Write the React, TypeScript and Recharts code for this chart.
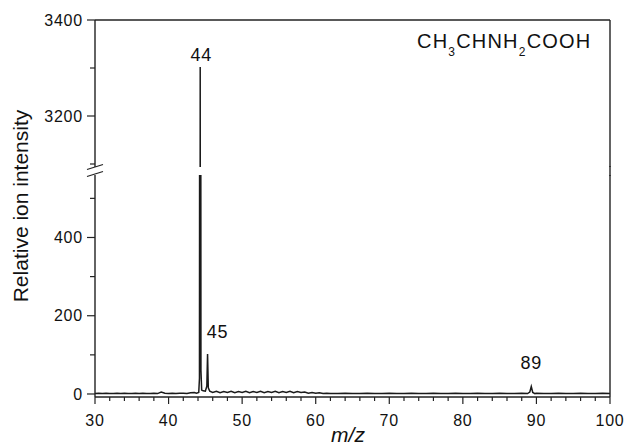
import React from 'react';
import { LineChart, Line, XAxis, YAxis, ReferenceDot } from 'recharts';

// m/z positions and relative ion intensities
const mzValues = [
  30, 30.5, 31, 31.5, 32, 32.5, 33, 33.5, 34, 34.5, 35, 35.5, 36, 36.5, 37, 37.5, 38, 38.5, 39, 39.5,
  40, 40.5, 41, 41.5, 42, 42.5, 43, 43.5, 43.8,
  44.1, 44.2, 44.3, 44.4, 44.5, 44.7,
  45.0, 45.2, 45.3, 45.4, 45.6,
  46, 46.5, 47, 47.5, 48, 48.5, 49, 49.5, 50, 50.5, 51, 51.5, 52, 52.5, 53, 53.5, 54, 54.5, 55, 55.5,
  56, 56.5, 57, 57.5, 58, 58.5, 59, 59.5, 60, 60.5, 61, 61.5, 62,
  63, 64, 65, 66, 67, 68, 69, 70, 71, 72, 73, 74, 75, 76, 77, 78, 79, 80, 81, 82, 83, 84, 85, 86, 87, 88,
  88.8, 89.1, 89.3, 89.5, 89.8,
  90, 91, 92, 93, 94, 95, 96, 97, 98, 99, 100,
];
const intensityValues = [
  1, 2, 1, 2, 1, 1, 2, 1, 2, 1, 1, 2, 1, 2, 1, 1, 2, 1, 5, 2,
  1, 2, 1, 2, 2, 1, 3, 4, 2,
  4, 40, 3302, 60, 10, 8,
  7, 20, 102, 16, 7,
  4, 7, 3, 6, 4, 7, 3, 6, 4, 7, 3, 6, 4, 7, 3, 6, 4, 7, 3, 6,
  4, 7, 3, 6, 4, 5, 2, 4, 2, 3, 1, 2, 1,
  1, 2, 1, 1, 2, 1, 1, 2, 1, 1, 2, 1, 1, 2, 1, 1, 2, 1, 1, 2, 1, 1, 2, 1, 1, 2,
  1, 5, 19, 4, 1,
  2, 1, 1, 2, 1, 1, 2, 1, 1, 2, 1,
];

const xTicks = [30, 32, 34, 36, 38, 40, 42, 44, 46, 48, 50, 52, 54, 56, 58, 60, 62, 64, 66, 68, 70, 72, 74, 76, 78, 80, 82, 84, 86, 88, 90, 92, 94, 96, 98, 100];
const xTickLabels = [30, 40, 50, 60, 70, 80, 90, 100];
const upperTicks = [3100, 3200, 3300, 3400];
const upperTickLabels = [3200, 3400];
const lowerTicks = [0, 100, 200, 300, 400, 500];
const lowerTickLabels = [0, 200, 400];

const spectrum = mzValues.map((mz, i) => ({ mz, intensity: intensityValues[i] }));

const FONT = '"Liberation Sans", Arial, Helvetica, sans-serif';
const INK = '#222';
const TEXT = '#111';

function makeYTick(labels: number[]) {
  return (props: any) => {
    const { x, y, payload } = props;
    const major = labels.includes(payload.value);
    const axisX = x + 12;
    return (
      <g>
        <line x1={axisX - (major ? 8 : 5)} x2={axisX} y1={y} y2={y} stroke={INK} strokeWidth={1.2} />
        {major && (
          <text x={x} y={y} dy="0.36em" textAnchor="end" fontFamily={FONT} fontSize={16} letterSpacing={0.8} fill={TEXT}>
            {payload.value}
          </text>
        )}
      </g>
    );
  };
}

const XTick = (props: any) => {
  const { x, y, payload } = props;
  const major = xTickLabels.includes(payload.value);
  const axisY = y - 9;
  return (
    <g>
      <line x1={x} x2={x} y1={axisY} y2={axisY + (major ? 7 : 4)} stroke={INK} strokeWidth={1.2} />
      {major && (
        <text x={x} y={axisY + 29} textAnchor="middle" fontFamily={FONT} fontSize={16} letterSpacing={0.8} fill={TEXT}>
          {payload.value}
        </text>
      )}
    </g>
  );
};

const PeakLabel = (props: any) => {
  const { viewBox, text, dx = 0, dy = 0 } = props;
  const cx = viewBox.x + (viewBox.width || 0) / 2;
  const cy = viewBox.y + (viewBox.height || 0) / 2;
  return (
    <text x={cx + dx} y={cy + dy} textAnchor="middle" fontFamily={FONT} fontSize={18} letterSpacing={0.8} fill={TEXT}>
      {text}
    </text>
  );
};

export default function App() {
  return (
    <div style={{ position: 'absolute', left: 0, top: 0, width: 625, height: 445, background: '#fff' }}>
      {/* lower panel: 0 .. ~560 */}
      <div style={{ position: 'absolute', left: 0, top: 0 }}>
        <LineChart width={625} height={445} data={spectrum} margin={{ top: 175, right: 0, bottom: 0, left: 0 }}>
          <XAxis
            dataKey="mz"
            type="number"
            domain={[30, 100]}
            ticks={xTicks}
            interval={0}
            height={48}
            tickSize={7}
            tickMargin={2}
            tickLine={false}
            tick={XTick}
            axisLine={{ stroke: INK, strokeWidth: 1.4 }}
            allowDataOverflow
          />
          <YAxis
            type="number"
            domain={[-7.7, 559.7]}
            ticks={lowerTicks}
            interval={0}
            width={95}
            tickSize={8}
            tickMargin={4}
            tickLine={false}
            tick={makeYTick(lowerTickLabels)}
            axisLine={{ stroke: INK, strokeWidth: 1.4 }}
            allowDataOverflow
          />
          <YAxis yAxisId="frame" orientation="right" width={15} domain={[0, 1]} tick={false} tickLine={false} axisLine={{ stroke: INK, strokeWidth: 1.4 }} />
          <Line type="linear" dataKey="intensity" stroke="#1a1a1a" strokeWidth={1.5} dot={false} activeDot={false} isAnimationActive={false} />
          <ReferenceDot x={45.3} y={102} r={0} fill="none" stroke="none" label={<PeakLabel text="45" dx={10} dy={-16} />} />
          <ReferenceDot x={89.3} y={19} r={0} fill="none" stroke="none" label={<PeakLabel text="89" dx={0} dy={-18} />} />
        </LineChart>
      </div>
      {/* upper panel: ~3094 .. 3400 */}
      <div style={{ position: 'absolute', left: 0, top: 0 }}>
        <LineChart width={625} height={445} data={spectrum} margin={{ top: 19, right: 0, bottom: 278, left: 0 }}>
          <XAxis
            dataKey="mz"
            type="number"
            orientation="top"
            domain={[30, 100]}
            height={1}
            tick={false}
            tickLine={false}
            axisLine={{ stroke: INK, strokeWidth: 1.4 }}
            allowDataOverflow
          />
          <YAxis
            type="number"
            domain={[3093.75, 3400]}
            ticks={upperTicks}
            interval={0}
            width={95}
            tickSize={8}
            tickMargin={4}
            tickLine={false}
            tick={makeYTick(upperTickLabels)}
            axisLine={{ stroke: INK, strokeWidth: 1.4 }}
            allowDataOverflow
          />
          <YAxis yAxisId="frame" orientation="right" width={15} domain={[0, 1]} tick={false} tickLine={false} axisLine={{ stroke: INK, strokeWidth: 1.4 }} />
          <Line type="linear" dataKey="intensity" stroke="#1a1a1a" strokeWidth={1.5} dot={false} activeDot={false} isAnimationActive={false} />
          <ReferenceDot x={44.3} y={3302} r={0} fill="none" stroke="none" label={<PeakLabel text="44" dx={1} dy={-6} />} />
        </LineChart>
      </div>
      {/* titles, formula and axis break */}
      <svg width={625} height={445} style={{ position: 'absolute', left: 0, top: 0, pointerEvents: 'none' }}>
        <text transform="translate(28,206) rotate(-90)" textAnchor="middle" fontFamily={FONT} fontSize={21} fill={TEXT}>
          Relative ion intensity
        </text>
        <text x={348} y={442} textAnchor="middle" fontFamily={FONT} fontSize={21} fontStyle="italic" fill={TEXT}>
          m/z
        </text>
        <text x={417} y={48} fontFamily={FONT} fontSize={20} letterSpacing={1.2} fill={TEXT}>
          CH<tspan dy={8} fontSize={12}>3</tspan>
          <tspan dy={-8}>CHNH</tspan>
          <tspan dy={8} fontSize={12}>2</tspan>
          <tspan dy={-8}>COOH</tspan>
        </text>
        <line x1={87} y1={169.5} x2={103} y2={164.5} stroke={INK} strokeWidth={1.3} />
        <line x1={87} y1={176.5} x2={103} y2={171.5} stroke={INK} strokeWidth={1.3} />
        {/* right frame runs through the break */}
        <line x1={610} y1={166} x2={610} y2={176} stroke={INK} strokeWidth={1.4} />
      </svg>
    </div>
  );
}
